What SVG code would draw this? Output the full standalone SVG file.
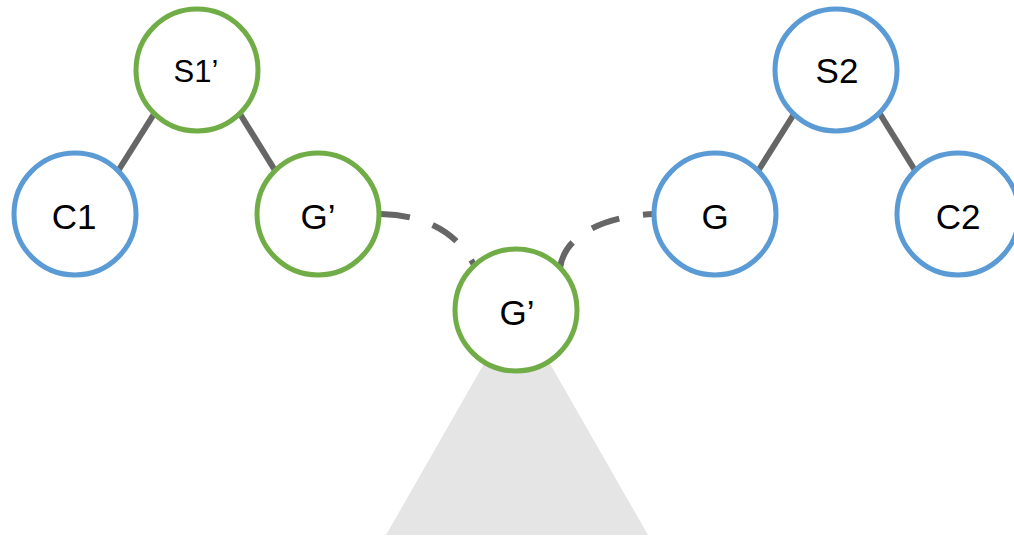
<svg xmlns="http://www.w3.org/2000/svg" width="1014" height="537" viewBox="0 0 1014 537">
  <style>
    .node { fill: #ffffff; stroke-width: 5; }
    .green { stroke: #70ad47; }
    .blue { stroke: #5b9bd5; }
    .label { font-family: "Liberation Sans", Arial, sans-serif; font-size: 35px; fill: #000000; text-anchor: middle; }
    .edge { stroke: #666666; stroke-width: 6; fill: none; }
    .dashed { stroke-dasharray: 29 24; }
  </style>

  <!-- subtree below the shared node -->
  <polygon id="subtree" points="517,306 648,535 386,535" fill="#e5e5e5"/>

  <g id="connectors">
    <line class="edge" x1="154" y1="114" x2="118" y2="171"/>
    <line class="edge" x1="240" y1="114" x2="276" y2="172"/>
    <line class="edge" x1="794" y1="114" x2="758" y2="171"/>
    <line class="edge" x1="880" y1="114" x2="916" y2="172"/>
    <path class="edge dashed" d="M381,214 Q450,216 475,267"/>
    <path class="edge dashed" d="M560,268 C565,232 610,216 653,214"/>
  </g>

  <g id="node-s1">
    <circle class="node green" cx="197" cy="70" r="61"/>
    <text class="label" x="196" y="82" style="font-size:31px">S1’</text>
  </g>
  <g id="node-c1">
    <circle class="node blue" cx="75" cy="214" r="61"/>
    <text class="label" x="74" y="229">C1</text>
  </g>
  <g id="node-g-prime-left">
    <circle class="node green" cx="318" cy="214" r="61"/>
    <text class="label" x="318" y="229">G’</text>
  </g>
  <g id="node-g-prime-bottom">
    <circle class="node green" cx="516" cy="310" r="61"/>
    <text class="label" x="517" y="325">G’</text>
  </g>
  <g id="node-g">
    <circle class="node blue" cx="715" cy="214" r="61"/>
    <text class="label" x="715" y="229">G</text>
  </g>
  <g id="node-s2">
    <circle class="node blue" cx="836" cy="70" r="61"/>
    <text class="label" x="837" y="83">S2</text>
  </g>
  <g id="node-c2">
    <circle class="node blue" cx="958" cy="214" r="61"/>
    <text class="label" x="958" y="229">C2</text>
  </g>
</svg>
